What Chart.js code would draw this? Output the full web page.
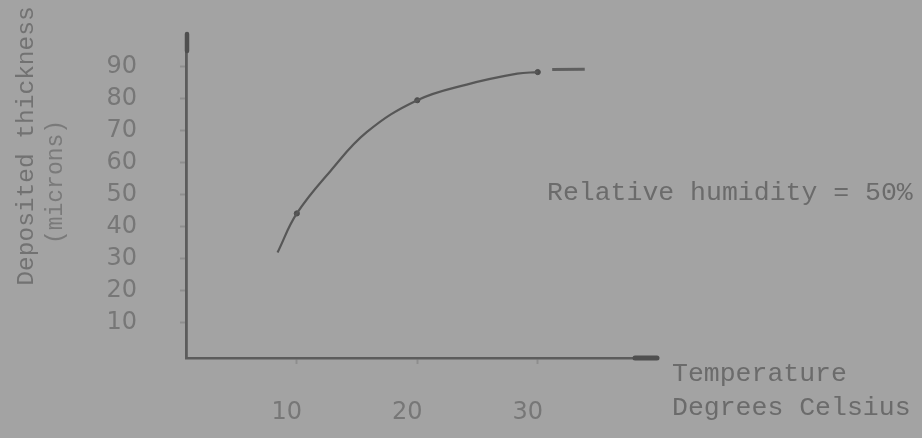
<!DOCTYPE html>
<html>
<head>
<meta charset="utf-8">
<script src="https://cdn.jsdelivr.net/npm/chart.js@4/dist/chart.umd.min.js"></script>
<style>
  html, body { margin: 0; padding: 0; background: #a3a3a3; }
  #wrap { width: 922px; height: 438px; }
</style>
</head>
<body>
<div id="wrap"><canvas id="c" width="922" height="438"></canvas></div>
<script>
// Deposited thickness (microns) versus temperature (°C), relative humidity 50%
const curveTemp = [8.4, 10, 12.8, 15.8, 20, 24.1, 28.3, 30];
const curveThick = [32, 44.2, 57.5, 69.6, 79.6, 84.5, 87.9, 88.4];

// short continuation dash past the last measurement
const tailTemp = [31.2, 33.9];
const tailThick = [89.2, 89.3];

// measured points marked on the curve
const measuredTemp = [10, 20, 30];
const measuredThick = [44.2, 79.6, 88.4];

// axis tick labels
const xTicks = [10, 20, 30];
const yTicks = [10, 20, 30, 40, 50, 60, 70, 80, 90];

const yTitle = 'Deposited thickness';
const yUnit = '(microns)';
const xTitle1 = 'Temperature';
const xTitle2 = 'Degrees Celsius';
const note = 'Relative humidity = 50%';

const toPoints = (xs, ys) => xs.map((x, i) => ({ x: x, y: ys[i] }));

const INK = '#575757';
const TYPE = '#6b6b6b';
const mono = '"Liberation Mono", "DejaVu Sans Mono", monospace';

const annotations = {
  id: 'annotations',
  afterDraw(chart) {
    const { ctx, chartArea } = chart;
    const a = chartArea;
    ctx.save();

    // heavy cap at the top of the vertical axis
    ctx.strokeStyle = '#4f4f4f';
    ctx.lineCap = 'round';
    ctx.lineWidth = 4.5;
    ctx.beginPath();
    ctx.moveTo(a.left + 1, a.top - 1);
    ctx.lineTo(a.left + 1, a.top + 16);
    ctx.stroke();

    // arrow end of the horizontal axis
    ctx.lineWidth = 5;
    ctx.beginPath();
    ctx.moveTo(a.right - 22, a.bottom);
    ctx.lineTo(a.right, a.bottom);
    ctx.stroke();

    // vertical axis title
    ctx.fillStyle = '#727272';
    ctx.textBaseline = 'middle';
    ctx.textAlign = 'center';
    ctx.save();
    ctx.translate(27, 146);
    ctx.rotate(-Math.PI / 2);
    ctx.font = '24.5px ' + mono;
    ctx.fillText(yTitle, 0, 0);
    ctx.restore();
    ctx.save();
    ctx.translate(56, 182);
    ctx.rotate(-Math.PI / 2);
    ctx.fillStyle = '#7a7a7a';
    ctx.font = '23px ' + mono;
    ctx.fillText(yUnit, 0, 0);
    ctx.restore();

    // horizontal axis title, to the right of the arrow
    ctx.fillStyle = TYPE;
    ctx.textAlign = 'left';
    ctx.font = '26.5px ' + mono;
    ctx.fillText(xTitle1, a.right + 15, a.bottom + 16);
    ctx.fillText(xTitle2, a.right + 15, a.bottom + 50);

    // condition note
    ctx.fillText(note, 547, 193);

    ctx.restore();
  }
};

new Chart(document.getElementById('c'), {
  type: 'line',
  data: {
    datasets: [
      {
        data: toPoints(curveTemp, curveThick),
        borderColor: INK,
        borderWidth: 2.2,
        pointRadius: 0,
        tension: 0.4,
        fill: false
      },
      {
        data: toPoints(tailTemp, tailThick),
        borderColor: '#5f5f5f',
        borderWidth: 3,
        pointRadius: 0,
        fill: false
      },
      {
        type: 'scatter',
        data: toPoints(measuredTemp, measuredThick),
        backgroundColor: '#4e4e4e',
        borderColor: '#4e4e4e',
        pointRadius: 2.6,
        showLine: false
      }
    ]
  },
  options: {
    responsive: false,
    devicePixelRatio: 1,
    animation: false,
    layout: { padding: { top: 35, right: 265, left: 0, bottom: 0 } },
    plugins: { legend: { display: false }, tooltip: { enabled: false }, title: { display: false } },
    scales: {
      x: {
        type: 'linear',
        min: 0.8,
        max: 39.9,
        afterBuildTicks: s => { s.ticks = xTicks.map(v => ({ value: v })); },
        afterFit: s => { s.height = 80; s.paddingLeft = 0; s.paddingRight = 0; },
        border: { display: true, color: '#5c5c5c', width: 2.6 },
        grid: { display: true, drawOnChartArea: false, drawTicks: true, tickLength: 6, tickColor: '#8e8e8e', tickWidth: 2 },
        ticks: {
          color: '#777777',
          font: { family: '"DejaVu Sans", sans-serif', size: 24 },
          padding: 34,
          labelOffset: -10,
          maxRotation: 0,
          autoSkip: false
        }
      },
      y: {
        type: 'linear',
        min: -1,
        max: 100,
        afterBuildTicks: s => { s.ticks = yTicks.map(v => ({ value: v })); },
        afterFit: s => { s.width = 186; s.paddingTop = 0; s.paddingBottom = 0; },
        border: { display: true, color: '#5c5c5c', width: 2.8 },
        grid: { display: true, drawOnChartArea: false, drawTicks: true, tickLength: 6, tickColor: '#8e8e8e', tickWidth: 2 },
        ticks: {
          color: '#777777',
          font: { family: '"DejaVu Sans", sans-serif', size: 24 },
          padding: 43,
          autoSkip: false
        }
      }
    }
  },
  plugins: [annotations]
});
</script>
</body>
</html>
